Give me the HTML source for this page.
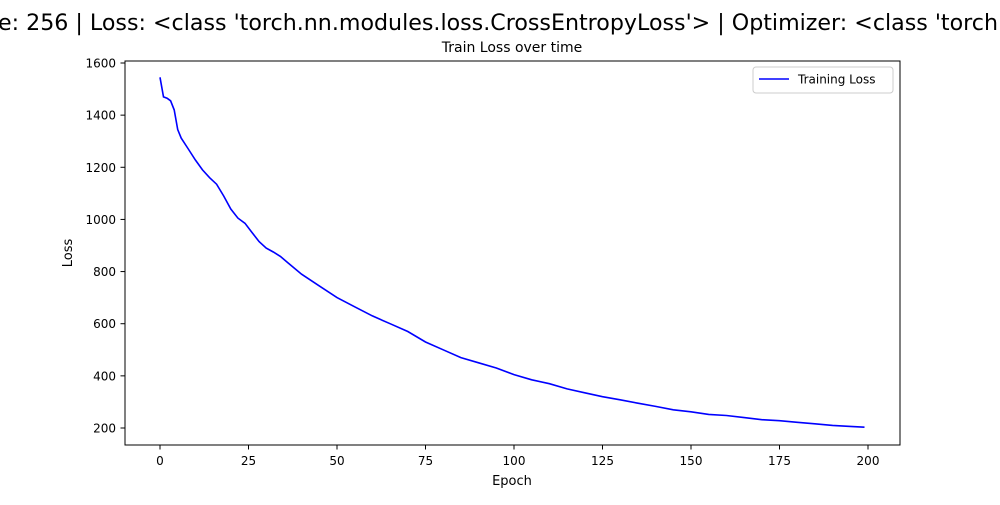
<!DOCTYPE html>
<html><head><meta charset="utf-8"><style>
body{margin:0;background:#fff;width:1000px;height:500px;overflow:hidden;font-family:"Liberation Sans","DejaVu Sans",sans-serif}
</style></head><body>
<svg width="1000" height="500" xmlns="http://www.w3.org/2000/svg" font-family="DejaVu Sans, Liberation Sans, sans-serif">
<text x="-2" y="30" font-size="22" textLength="1000" lengthAdjust="spacingAndGlyphs">e: 256 | Loss: &lt;class 'torch.nn.modules.loss.CrossEntropyLoss'&gt; | Optimizer: &lt;class 'torch</text>
<text x="512" y="52" font-size="14" text-anchor="middle">Train Loss over time</text>
<g id="xt"></g><g id="yt"></g>
<path id="line" fill="none" stroke="#0000ff" stroke-width="1.6"/>
<rect x="125" y="61" width="775" height="384" fill="none" stroke="#000" stroke-width="1"/>
<text x="512" y="485" font-size="13" text-anchor="middle">Epoch</text>
<text x="72" y="253" font-size="13" text-anchor="middle" transform="rotate(-90 72 253)">Loss</text>
<g>
<rect x="753" y="67" width="140" height="26" rx="3" fill="#fff" stroke="#ccc"/>
<line x1="759" y1="79" x2="789" y2="79" stroke="#0000ff" stroke-width="1.6"/>
<text x="798" y="83.5" font-size="12">Training Loss</text>
</g>
</svg>
<script>
const epochs=[0,1,2,3,4,5,6,8,10,12,14,16,18,20,22,24,26,28,30,32,34,36,40,45,50,55,60,65,70,75,80,85,90,95,100,105,110,115,120,125,130,135,140,145,150,155,160,165,170,175,180,185,190,195,199];
const losses=[1545,1470,1465,1455,1420,1345,1312,1270,1228,1190,1160,1135,1090,1040,1005,985,950,915,890,875,858,835,790,745,700,665,630,600,570,530,500,470,450,430,405,385,370,350,335,320,308,295,283,270,262,252,248,240,232,228,222,216,210,206,203];
const xTicks=[0,25,50,75,100,125,150,175,200];
const yTicks=[200,400,600,800,1000,1200,1400,1600];
const X=v=>160+v*(868-160)/200, Y=v=>428-(v-200)*(428-63)/1400;
const ns="http://www.w3.org/2000/svg";
const xt=document.getElementById('xt'), yt=document.getElementById('yt');
xTicks.forEach(t=>{
 const l=document.createElementNS(ns,'line');l.setAttribute('x1',X(t));l.setAttribute('x2',X(t));l.setAttribute('y1',445);l.setAttribute('y2',449.5);l.setAttribute('stroke','#000');
 
 
 xt.appendChild(l);
 const s=document.createElementNS(ns,'text');s.setAttribute('x',X(t));s.setAttribute('y',465);s.setAttribute('font-size','12');s.setAttribute('text-anchor','middle');s.textContent=t;
 
 
 xt.appendChild(s);
});
yTicks.forEach(t=>{
 const l=document.createElementNS(ns,'line');l.setAttribute('y1',Y(t));l.setAttribute('y2',Y(t));l.setAttribute('x1',120.5);l.setAttribute('x2',125);l.setAttribute('stroke','#000');
 
 
 yt.appendChild(l);
 const s=document.createElementNS(ns,'text');s.setAttribute('x',116);s.setAttribute('y',Y(t)+4.5);s.setAttribute('font-size','12');s.setAttribute('text-anchor','end');s.textContent=t;
 
 
 yt.appendChild(s);
});
document.getElementById('line').setAttribute('d',epochs.map((e,i)=>(i?'L':'M')+X(e).toFixed(1)+' '+Y(losses[i]).toFixed(1)).join(' '));
</script>
</body></html>
